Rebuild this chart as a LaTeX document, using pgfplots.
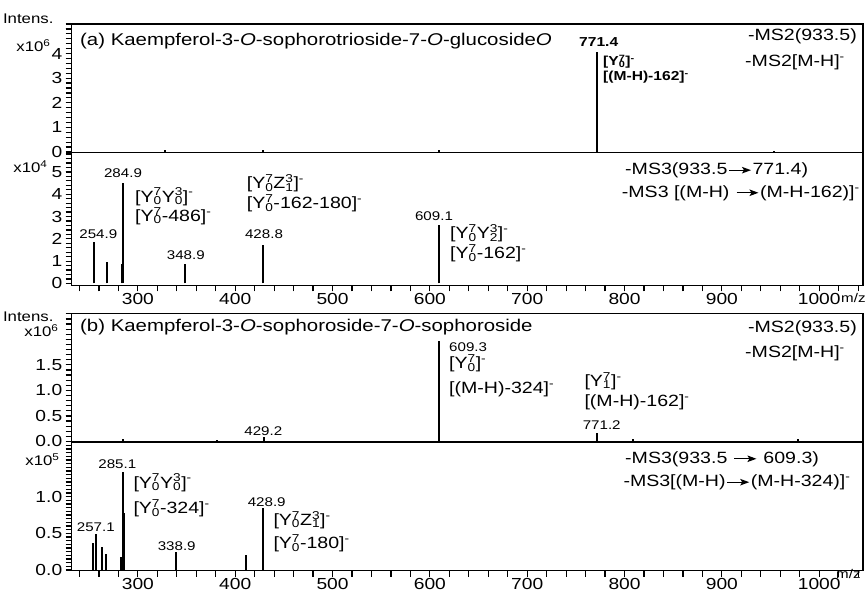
\documentclass[border=0pt]{standalone}
\usepackage{fontspec}
\setmainfont[FakeStretch=1.2]{Liberation Sans}
\usepackage{pgfplots}
\pgfplotsset{compat=1.18}
\usetikzlibrary{arrows.meta}

\newcommand\fT{\fontsize{17bp}{20bp}\selectfont}
\newcommand\fM{\fontsize{16.3bp}{19bp}\selectfont}
\newcommand\fA{\fontsize{16.3bp}{19bp}\selectfont}
\newcommand\fK{\fontsize{16bp}{19bp}\selectfont}
\newcommand\fL{\fontsize{14bp}{16bp}\selectfont}
\newcommand\fS{\fontsize{12.6bp}{15bp}\selectfont}
\newcommand\fSb{\fontsize{13bp}{15bp}\selectfont\bfseries}
% Y^7_0 style stacked indices
\newcommand\YZ[3]{#1\rlap{\textsuperscript{#2}}\textsubscript{#3}}
\newcommand\ion[1]{[#1]\textsuperscript{-}}
\newcommand\arr{\kern1bp\tikz[baseline=-0.55ex]\draw[line width=1.2bp,-{Stealth[length=9bp,width=6.5bp,inset=2bp]}](0,0)--(22bp,0);\kern1bp}

\pgfplotsset{
  ms/.style={
    scale only axis, width=791.3bp, anchor=south west,
    xmin=232, xmax=1045,
    axis line style={line width=1.5bp},
    tick style={line width=1.2bp, black},
    tick align=outside, xtick pos=bottom, ytick pos=left,
    major tick length=6bp, minor tick length=6bp,
    tick label style={font=\fK},
    xticklabel style={yshift=1.5bp},
    /pgf/number format/assume math mode=true,
    /pgf/number format/1000 sep={},
    extra y tick labels={},
    extra y tick style={tick style={line width=1.2bp, black}},
  },
  pk/.style={ycomb, black, line width=2bp, mark=none},
}

\begin{document}
\begin{tikzpicture}[x=1bp,y=1bp]
\path[use as bounding box] (0,0) rectangle (867,593);

% (a) MS2
\begin{axis}[ms, at={(71.7bp,440.5bp)}, height=128.5bp,
  ymin=-0.02, ymax=5.2, xtick=\empty,
  ytick={0,1,2,3,4,5}, yticklabels={0,1,2,3,4,{}},
  extra y ticks={0.2,0.4,...,5.2}]
\addplot[pk] coordinates {(328,0.08) (429,0.08) (609,0.08) (771.4,4.08) (954,0.06)};
\end{axis}

% (a) MS3
\begin{axis}[ms, at={(71.7bp,307.5bp)}, height=133bp,
  ymin=-0.09, ymax=5.87,
  xtick={300,400,...,1000}, minor xtick={240,260,...,1040},
  ytick={0,1,2,3,4,5}, yticklabels={0,1,2,3,4,5},
  extra y ticks={0.2,0.4,...,5.8}]
\addplot[pk] coordinates {(254.9,1.87) (268.5,0.95) (283.3,0.87) (284.9,4.52)
  (348.9,0.86) (428.8,1.71) (609.1,2.62)};
\end{axis}

% (b) MS2
\begin{axis}[ms, at={(71.7bp,151bp)}, height=128.7bp,
  ymin=-0.01, ymax=2.51, xtick=\empty,
  ytick={0,0.5,1,1.5,2}, yticklabels={0.0,0.5,1.0,1.5,{}},
  extra y ticks={0.1,0.2,...,2.5}]
\addplot[pk] coordinates {(285,0.05) (381,0.03) (429.2,0.08) (609.3,1.97)
  (771.2,0.17) (808.5,0.05) (977.7,0.05)};
\end{axis}

% (b) MS3
\begin{axis}[ms, at={(71.7bp,22.3bp)}, height=128.7bp,
  ymin=-0.01, ymax=1.746,
  xtick={300,400,...,1000}, minor xtick={240,260,...,1040},
  ytick={0,0.5,1,1.5}, yticklabels={0.0,0.5,1.0,{}},
  extra y ticks={0.05,0.1,...,1.75}]
\addplot[pk] coordinates {(253.5,0.37) (256.9,0.49) (263.3,0.31) (267.1,0.22)
  (282.2,0.18) (285.1,1.34) (285.7,0.78) (338.9,0.24) (411,0.21) (428.9,0.84)};
\end{axis}

% left labels
\node[anchor=east,font=\fL] at (57,{593-19}) {Intens.};
\node[anchor=east,font=\fL] at (54,{593-46}) {x10\textsuperscript{6}};
\node[anchor=east,font=\fL] at (51,{593-167}) {x10\textsuperscript{4}};
\node[anchor=east,font=\fL] at (57,{593-317}) {Intens.};
\node[anchor=east,font=\fL] at (62,{593-331}) {x10\textsuperscript{6}};
\node[anchor=east,font=\fL] at (63,{593-460}) {x10\textsuperscript{5}};
\node[anchor=west,font=\fS,inner sep=0pt] at (841,{593-298}) {m/z};
\node[anchor=west,font=\fS,inner sep=0pt] at (836,{593-574}) {m/z};

\begin{scope}[every node/.style={inner sep=0pt}]
% panel 1
\node[anchor=west,font=\fT] at (80,{593-41}) {(a) Kaempferol-3-\textit{O}-sophorotrioside-7-\textit{O}-glucoside\textit{O}};
\node[font=\fSb] at (598.7,{593-41.7}) {771.4};
\node[anchor=west,font=\fSb] at (603,{593-61.7}) {\ion{\YZ{Y}{7}{0}}};
\node[anchor=west,font=\fSb] at (603,{593-77.3}) {\ion{(M-H)-162}};
\node[anchor=east,font=\fM] at (857,{593-36}) {-MS2(933.5)};
\node[anchor=west,font=\fM] at (745,{593-62.7}) {-MS2\ion{M-H}};
% panel 2
\node[font=\fS] at (123,{593-172.7}) {284.9};
\node[anchor=west,font=\fA] at (135,{593-196.7}) {\ion{\YZ{Y}{7}{0}\YZ{Y}{3}{0}}};
\node[anchor=west,font=\fA] at (135,{593-216}) {\ion{\YZ{Y}{7}{0}-486}};
\node[font=\fS] at (98.3,{593-234.3}) {254.9};
\node[anchor=west,font=\fA] at (246.7,{593-183.3}) {\ion{\YZ{Y}{7}{0}\YZ{Z}{3}{1}}};
\node[anchor=west,font=\fA] at (246.7,{593-203.3}) {\ion{\YZ{Y}{7}{0}-162-180}};
\node[font=\fS] at (264,{593-234.3}) {428.8};
\node[font=\fS] at (185.8,{593-255}) {348.9};
\node[font=\fS] at (434,{593-216}) {609.1};
\node[anchor=west,font=\fA] at (450,{593-233.3}) {\ion{\YZ{Y}{7}{0}\YZ{Y}{3}{2}}};
\node[anchor=west,font=\fA] at (450,{593-253.3}) {\ion{\YZ{Y}{7}{0}-162}};
\node[anchor=west,font=\fM] at (625,{593-170.7}) {-MS3(933.5\arr771.4)};
\node[anchor=west,font=\fM] at (621.7,{593-193.3}) {-MS3 [(M-H) \arr(M-H-162)]\textsuperscript{-}};
% panel 3
\node[anchor=west,font=\fT] at (80,{593-326.7}) {(b) Kaempferol-3-\textit{O}-sophoroside-7-\textit{O}-sophoroside};
\node[font=\fS] at (263.3,{593-431}) {429.2};
\node[anchor=west,font=\fS] at (449,{593-346.7}) {609.3};
\node[anchor=west,font=\fA] at (449,{593-363.3}) {\ion{\YZ{Y}{7}{0}}};
\node[anchor=west,font=\fA] at (449,{593-389.3}) {\ion{(M-H)-324}};
\node[anchor=west,font=\fA] at (584.3,{593-381}) {\ion{\YZ{Y}{7}{1}}};
\node[anchor=west,font=\fA] at (584.3,{593-402.3}) {\ion{(M-H)-162}};
\node[font=\fS] at (601.7,{593-425}) {771.2};
\node[anchor=east,font=\fM] at (857,{593-328.3}) {-MS2(933.5)};
\node[anchor=west,font=\fM] at (745,{593-353.3}) {-MS2\ion{M-H}};
% panel 4
\node[font=\fS] at (117.3,{593-464}) {285.1};
\node[anchor=west,font=\fA] at (133.3,{593-482.7}) {\ion{\YZ{Y}{7}{0}\YZ{Y}{3}{0}}};
\node[anchor=west,font=\fA] at (133.3,{593-508.3}) {\ion{\YZ{Y}{7}{0}-324}};
\node[font=\fS] at (95.8,{593-527.3}) {257.1};
\node[font=\fS] at (266.7,{593-501.7}) {428.9};
\node[anchor=west,font=\fA] at (273.3,{593-520}) {\ion{\YZ{Y}{7}{0}\YZ{Z}{3}{1}}};
\node[anchor=west,font=\fA] at (273.3,{593-543.3}) {\ion{\YZ{Y}{7}{0}-180}};
\node[font=\fS] at (176.7,{593-546}) {338.9};
\node[anchor=west,font=\fM] at (625,{593-459.3}) {-MS3(933.5 \arr\ 609.3)};
\node[anchor=west,font=\fM] at (623.3,{593-482.7}) {-MS3[(M-H)\arr(M-H-324)]\textsuperscript{-}};
\end{scope}
\end{tikzpicture}
\end{document}
